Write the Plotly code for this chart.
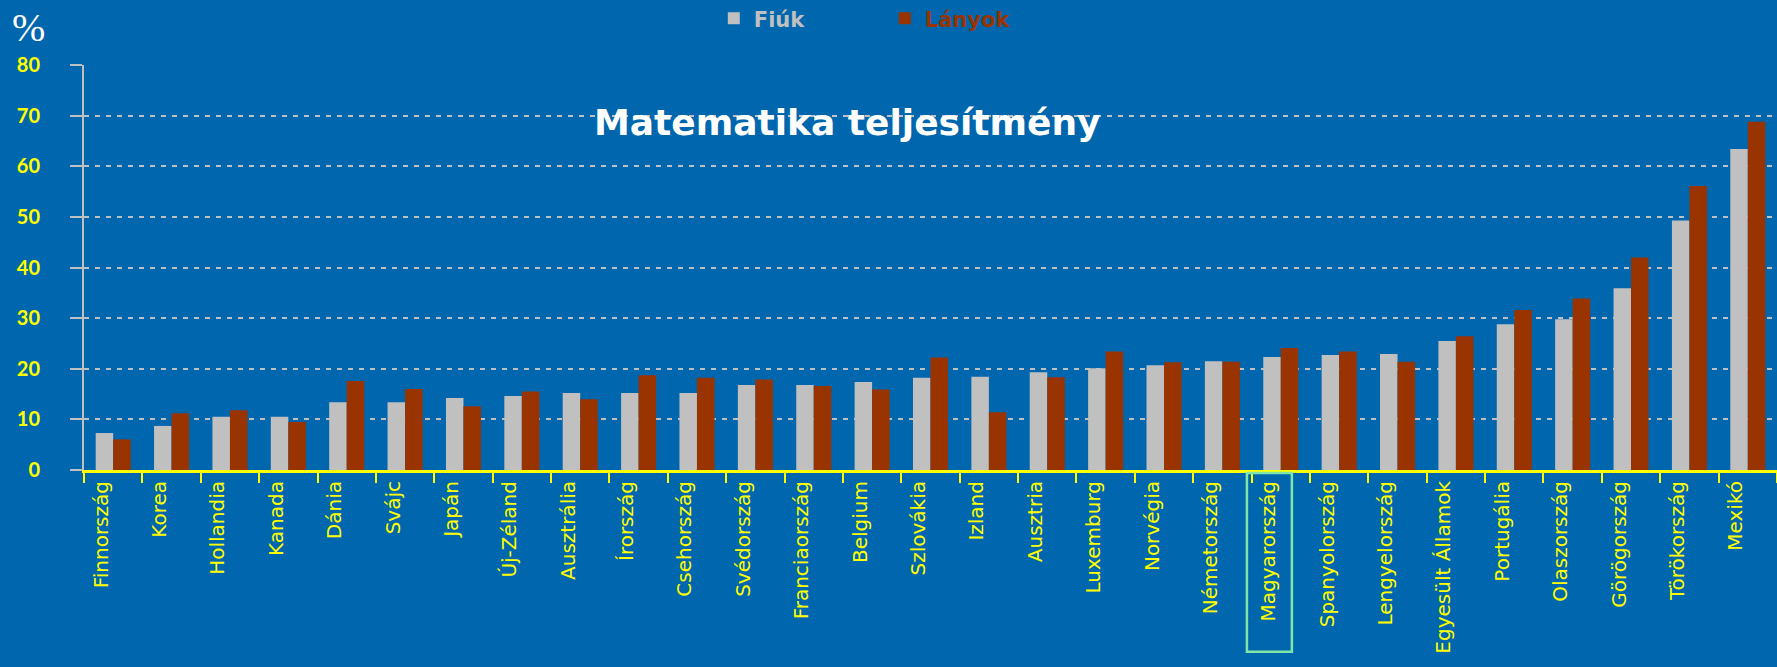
import plotly.graph_objects as go

countries = ["Finnország", "Korea", "Hollandia", "Kanada", "Dánia", "Svájc", "Japán",
             "Új-Zéland", "Ausztrália", "Írország", "Csehország", "Svédország",
             "Franciaország", "Belgium", "Szlovákia", "Izland", "Ausztria", "Luxemburg",
             "Norvégia", "Németország", "Magyarország", "Spanyolország", "Lengyelország",
             "Egyesült Államok", "Portugália", "Olaszország", "Görögország",
             "Törökország", "Mexikó"]
fiuk = [7.3, 8.7, 10.5, 10.5, 13.4, 13.4, 14.2, 14.6, 15.2, 15.2, 15.2, 16.8, 16.8, 17.4,
        18.2, 18.4, 19.3, 20.1, 20.7, 21.5, 22.3, 22.7, 22.9, 25.5, 28.8, 29.8, 35.9,
        49.3, 63.4]
lanyok = [6.05, 11.2, 11.8, 9.5, 17.6, 16.0, 12.6, 15.5, 14.0, 18.7, 18.2, 17.9, 16.6,
          15.9, 22.2, 11.4, 18.3, 23.4, 21.3, 21.4, 24.1, 23.4, 21.4, 26.4, 31.6, 33.9,
          42.0, 56.1, 68.8]
y_ticks = [0, 10, 20, 30, 40, 50, 60, 70, 80]
highlight = "Magyarország"

BG = "#0066AE"
GREY = "#C0C0C0"
RED = "#993300"
YELLOW = "#FFFF00"

fig = go.Figure()
fig.add_trace(go.Bar(x=countries, y=fiuk, marker_color=GREY, marker_line_width=0,
                     name=f"<b><span style='color:{GREY}'>Fiúk</span></b>"))
fig.add_trace(go.Bar(x=countries, y=lanyok, marker_color=RED, marker_line_width=0,
                     name=f"<b><span style='color:{RED}'>Lányok</span></b>"))

fig.update_layout(
    width=1777, height=667,
    paper_bgcolor=BG, plot_bgcolor=BG,
    margin=dict(l=84, r=0, t=65, b=197, autoexpand=False),
    barmode="group", bargap=0.4, bargroupgap=0,
    showlegend=True,
    legend=dict(orientation="h", x=0.372, xanchor="left",
                y=1.165, yanchor="top",
                entrywidth=126, entrywidthmode="pixels",
                font=dict(family="DejaVu Sans", size=21), bgcolor="rgba(0,0,0,0)"),
    font=dict(family="DejaVu Sans"),
)
fig.update_xaxes(
    type="category", range=[-0.5, len(countries) - 0.5],
    showline=True, linecolor=YELLOW, linewidth=3,
    ticks="outside", tickson="boundaries", ticklen=10, tickwidth=2, tickcolor=YELLOW,
    tickangle=-90, tickfont=dict(family="DejaVu Sans", size=20, color=YELLOW),
    ticklabelshift=-12, ticklabelstandoff=0,
    showgrid=False, zeroline=False,
)
fig.update_yaxes(
    range=[0, 80], tickvals=y_ticks, ticktext=[str(v) for v in y_ticks],
    showline=True, linecolor=GREY, linewidth=2,
    ticks="outside", ticklen=12, tickwidth=2, tickcolor=GREY,
    tickfont=dict(family="Lato", size=20, color=YELLOW, weight="bold"),
    ticklabelstandoff=26,
    showgrid=True, gridcolor=GREY, gridwidth=2, griddash="5px,6px",
    zeroline=False,
)

fig.add_annotation(text="<b>Matematika teljesítmény</b>", xref="paper", yref="paper",
                   x=0.451, y=0.858, xanchor="center", yanchor="middle", showarrow=False,
                   font=dict(family="DejaVu Sans", size=36, color="white"))
fig.add_annotation(text="%", xref="paper", yref="paper", x=-0.033, y=1.092,
                   xanchor="center", yanchor="middle", showarrow=False,
                   font=dict(family="Liberation Serif", size=40, color="white"))

hi = countries.index(highlight)
fig.add_shape(type="rect", xref="x", yref="paper", x0=hi - 0.58, x1=hi + 0.19,
              y0=-0.0074, y1=-0.449, line=dict(color="#80E6A8", width=2.5),
              fillcolor="rgba(0,0,0,0)", layer="above")

fig.write_html(
    "out.html",
    config={"displayModeBar": False},
    post_script=("document.body.style.margin='0';"
                 "document.body.style.background='" + BG + "';"
                 "document.body.style.overflow='hidden';"),
)
